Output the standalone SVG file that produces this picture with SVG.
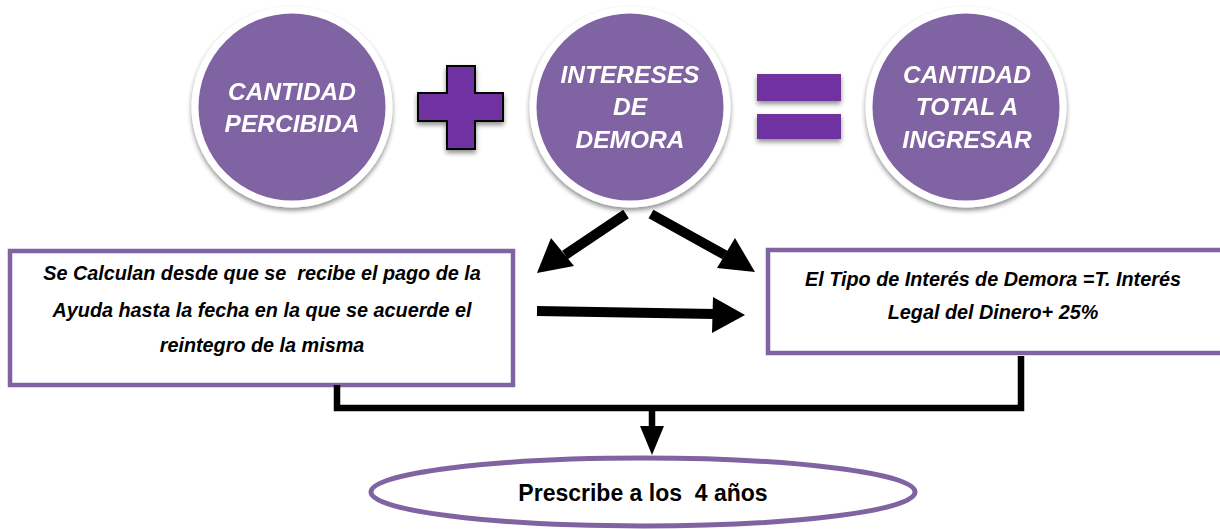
<svg xmlns="http://www.w3.org/2000/svg" width="1220" height="529" viewBox="0 0 1220 529">
<style>
.circ{fill:#8064A2;stroke:#fff;stroke-width:7}
.ct{font-family:"Liberation Sans",Arial,sans-serif;font-weight:bold;font-style:italic;font-size:24.5px;fill:#fff;text-anchor:middle}
.op{fill:#7030A0}
.box{fill:#fff;stroke:#8064A2;stroke-width:4.5}
.bt{font-family:"Liberation Sans",Arial,sans-serif;font-weight:bold;font-style:italic;font-size:19.8px;fill:#000;text-anchor:middle;white-space:pre}
.line{fill:none;stroke:#000;stroke-width:6.5}
.arr{fill:none;stroke:#000;stroke-width:10}
.ah{fill:#000}
</style>
<defs>
<filter id="sh" x="-20%" y="-20%" width="140%" height="140%">
<feGaussianBlur in="SourceAlpha" stdDeviation="2.5"/>
<feOffset dx="0" dy="3" result="b"/>
<feComponentTransfer><feFuncA type="linear" slope="0.45"/></feComponentTransfer>
<feMerge><feMergeNode/><feMergeNode in="SourceGraphic"/></feMerge>
</filter>
</defs>
<g id="cantidad-percibida" filter="url(#sh)">
<circle class="circ" cx="292" cy="107" r="97"/>
<text class="ct" x="292" y="100">CANTIDAD</text>
<text class="ct" x="292" y="132">PERCIBIDA</text>
</g>
<g id="plus" filter="url(#sh)">
<path class="op" stroke="#000" stroke-width="2" d="M447,66 H475 V93 H503 V121 H475 V149 H447 V121 H418 V93 H447 Z"/>
</g>
<g id="intereses-demora" filter="url(#sh)">
<circle class="circ" cx="630" cy="107" r="97"/>
<text class="ct" x="630" y="83">INTERESES</text>
<text class="ct" x="630" y="115">DE</text>
<text class="ct" x="630" y="148">DEMORA</text>
</g>
<g id="equals" filter="url(#sh)">
<rect class="op" x="757" y="74" width="84" height="27"/>
<rect class="op" x="757" y="114" width="84" height="25"/>
</g>
<g id="cantidad-total" filter="url(#sh)">
<circle class="circ" cx="966" cy="107" r="97"/>
<text class="ct" x="967" y="83">CANTIDAD</text>
<text class="ct" x="967" y="115">TOTAL A</text>
<text class="ct" x="967" y="148">INGRESAR</text>
</g>
<g id="box-calculan">
<rect class="box" x="10" y="251" width="503" height="134"/>
<text class="bt" x="262" y="280" xml:space="preserve">Se Calculan desde que se  recibe el pago de la</text>
<text class="bt" x="262" y="317">Ayuda hasta la fecha en la que se acuerde el</text>
<text class="bt" x="262" y="352">reintegro de la misma</text>
</g>
<g id="box-tipo">
<rect class="box" x="768" y="250" width="460" height="103"/>
<text class="bt" x="993" y="286">El Tipo de Interés de Demora =T. Interés</text>
<text class="bt" x="993" y="319">Legal del Dinero+ 25%</text>
</g>
<g id="prescribe">
<ellipse cx="643" cy="492" rx="272" ry="34" fill="#fff" stroke="#8064A2" stroke-width="5"/>
<text x="643" y="501" font-family="'Liberation Sans',Arial,sans-serif" font-weight="bold" font-size="23" text-anchor="middle" xml:space="preserve" style="white-space:pre">Prescribe a los  4 años</text>
</g>
<g id="connectors">
<line class="arr" x1="626" y1="214" x2="565" y2="255"/>
<polygon class="ah" points="537,273 551,238 574,266"/>
<line class="arr" x1="651" y1="214" x2="725" y2="255"/>
<polygon class="ah" points="755,272 717,268 735,238"/>
<path class="arr" d="M537,311 L715,314"/>
<polygon class="ah" points="745,315 713,297 712,333"/>
<path class="line" d="M337,385 V408 H1021 V356"/>
<line class="line" x1="652" y1="408" x2="652" y2="428"/>
<polygon class="ah" points="652,455 640,426 664,426"/>
</g>
</svg>
